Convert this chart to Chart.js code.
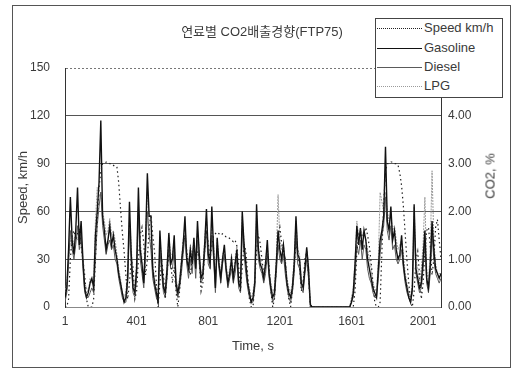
<!DOCTYPE html>
<html>
<head>
<meta charset="utf-8">
<script src="https://cdn.jsdelivr.net/npm/chart.js"></script>
<style>
body{margin:0;background:#fff;}
#wrap{position:relative;width:517px;height:371px;font-family:"Liberation Sans","Noto Sans CJK KR",sans-serif;color:#3a3a3a;}
#frame{position:absolute;left:12px;top:5px;width:497px;height:361px;border:1px solid #555;}
canvas{position:absolute;left:0;top:0;}
#title{position:absolute;left:262px;top:21px;transform:translateX(-50%);font-size:13px;white-space:nowrap;}
#legend{position:absolute;left:375px;top:18px;width:126px;height:78px;border:1px solid #444;background:#fff;}
.row{position:absolute;left:1px;height:14px;width:124px;font-size:13px;line-height:14px;}
.sample{position:absolute;left:0;top:7px;width:45px;height:0;}
.row span{position:absolute;left:47px;top:0;white-space:nowrap;}
#y2title{position:absolute;left:490px;top:176px;transform:translate(-50%,-50%) rotate(-90deg);font-size:13px;font-weight:normal;color:#3a3a3a;white-space:nowrap;}
</style>
</head>
<body>
<div id="wrap">
  <div id="frame"></div>
  <canvas id="chart" width="517" height="371"></canvas>
  <div id="title">연료별 CO2배출경향(FTP75)</div>
  <div id="y2title">CO2, %</div>
  <div id="legend"></div>
</div>
<script>
// values, one sample every 10 s (t = 1, 11, 21 ... 2101)
const sampleStep = 10;

// vehicle speed, km/h
const speedKmh = [
  0,0,5,30,45,48,42,46,50,38,
  30,20,5,0,0,0,5,30,55,75,
  85,90,90,91,91,90,90,89,88,88,
  78,62,47,35,20,5,15,30,25,5,
  10,30,45,50,40,20,30,50,58,45,
  35,15,0,15,30,20,5,20,35,30,
  15,25,10,0,10,25,40,45,35,25,
  20,30,40,30,35,30,10,15,35,48,
  40,30,38,45,46,47,46,45,46,45,
  44,44,43,42,41,42,38,25,10,25,
  40,35,20,5,0,0,15,35,45,40,
  30,20,25,35,25,10,0,5,25,45,
  50,40,35,30,15,5,0,10,25,40,
  35,25,10,15,30,35,20,0,
  0,0,0,0,0,0,0,0,0,0,0,0,0,0,0,0,0,0,0,0,0,0,
  0,0,10,35,45,48,44,46,50,45,
  38,28,15,3,0,0,3,35,65,85,
  90,90,91,91,90,90,89,84,76,63,
  46,29,15,3,0,10,30,35,20,5,
  15,35,48,50,38,20,30,50,55,42,30
];

// CO2, %
const co2Gasoline = [
  0.2,0.4,1.2,2.3,1.4,1.1,1.6,2.5,1.3,1.8,
  1.0,0.4,0.2,0.3,0.5,0.6,0.4,1.5,2.0,2.6,
  3.9,1.9,1.6,1.2,1.4,1.7,1.3,1.5,1.2,1.0,
  0.7,0.5,0.3,0.1,0.2,0.6,2.2,1.1,0.4,0.3,
  0.8,2.5,1.2,0.9,0.5,1.4,2.8,1.9,1.9,0.8,
  0.5,0.3,0.1,1.6,0.9,0.4,0.3,0.8,1.55,0.9,
  1.0,1.5,0.5,0.3,0.5,0.9,1.3,1.9,1.0,0.8,
  1.2,0.9,1.45,0.8,1.8,1.1,0.6,0.7,1.3,2.05,
  1.1,0.9,2.1,1.2,0.4,1.45,0.9,0.6,1.0,1.3,
  0.8,0.5,0.7,1.0,0.6,0.9,1.2,0.5,0.4,2.0,
  1.3,0.9,0.5,0.3,0.1,0.2,0.5,2.15,1.2,0.9,
  0.8,0.6,0.9,1.4,0.7,0.4,0.2,0.3,0.9,1.6,
  1.2,1.0,1.3,0.9,0.5,0.3,0.2,0.4,0.9,1.9,
  1.1,1.0,0.5,0.4,0.8,1.25,0.8,0.05,
  0,0,0,0,0,0,0,0,0,0,0,0,0,0,0,0,0,0,0,0,0,0,
  0.1,0.3,0.9,1.7,1.3,1.65,1.2,1.6,1.4,1.0,
  0.8,0.6,0.4,0.3,0.2,0.8,1.4,1.6,1.9,3.35,
  1.8,1.6,2.1,1.4,1.6,1.2,1.0,1.1,1.5,0.9,
  0.6,0.4,0.2,0.1,0.4,2.15,0.8,0.6,0.4,0.5,
  1.0,1.6,0.6,0.4,0.9,1.8,1.2,0.8,0.7,0.6,0.7
];

const co2Diesel = [
  0.1,0.3,0.9,1.6,1.2,1.0,1.3,1.7,1.2,1.5,
  0.8,0.3,0.2,0.2,0.3,0.4,0.3,1.0,1.7,2.1,
  2.4,1.7,1.4,1.1,1.3,1.4,1.2,1.3,1.0,0.9,
  0.6,0.4,0.2,0.1,0.1,0.5,1.6,0.9,0.3,0.2,
  0.6,1.9,1.0,0.7,0.4,1.1,2.0,1.5,1.2,0.6,
  0.4,0.2,0.1,1.2,0.7,0.3,0.2,0.6,1.2,0.8,
  0.8,1.2,0.4,0.2,0.4,0.7,1.1,1.5,0.9,0.6,
  1.0,0.7,1.2,0.6,1.4,0.9,0.5,0.6,1.1,1.6,
  0.9,0.8,1.5,1.0,0.3,1.2,0.8,0.5,0.9,1.1,
  0.7,0.4,0.6,0.8,0.5,0.7,1.0,0.4,0.3,1.6,
  1.1,0.7,0.4,0.2,0.1,0.1,0.4,1.7,1.0,0.8,
  0.7,0.5,0.7,1.1,0.6,0.3,0.1,0.2,0.7,1.3,
  1.0,0.9,1.1,0.7,0.4,0.2,0.1,0.3,0.7,1.5,
  0.9,0.8,0.4,0.3,0.7,1.0,0.6,0.05,
  0,0,0,0,0,0,0,0,0,0,0,0,0,0,0,0,0,0,0,0,0,0,
  0.1,0.2,0.6,1.3,1.1,1.4,1.0,1.3,1.2,0.8,
  0.6,0.5,0.3,0.2,0.2,0.6,1.1,1.5,1.7,2.3,
  1.6,1.4,1.7,1.2,1.3,1.0,0.9,1.0,1.2,0.8,
  0.5,0.3,0.2,0.1,0.3,1.7,0.7,0.5,0.3,0.4,
  0.8,1.3,0.5,0.3,0.7,1.5,1.0,0.7,0.6,0.5,0.6
];

const co2Lpg = [
  0.3,0.5,1.0,1.4,1.5,1.3,1.5,1.4,1.6,1.4,
  0.9,0.5,0.4,0.3,0.6,0.5,0.6,1.8,2.5,2.3,
  2.4,2.0,1.8,1.5,1.6,1.85,1.5,1.6,1.4,1.1,
  0.8,0.6,0.3,0.2,0.3,0.8,1.8,1.3,0.5,0.4,
  1.0,2.1,1.4,1.0,0.6,1.5,2.4,1.7,1.3,0.9,
  0.6,0.4,0.2,1.4,1.0,0.5,0.4,0.9,1.5,1.1,
  1.1,1.4,0.6,0.4,0.6,1.0,1.4,1.7,1.2,0.9,
  1.3,1.0,1.4,0.9,1.6,1.2,0.7,0.8,1.4,1.9,
  1.2,1.0,1.7,1.3,0.5,1.4,1.0,0.7,1.1,1.2,
  0.9,0.6,0.8,1.1,0.7,1.0,1.3,0.6,0.5,1.9,
  1.4,1.0,0.6,0.4,0.2,0.3,0.6,2.0,1.3,1.0,
  0.9,0.7,1.0,1.3,0.8,0.5,0.3,0.4,1.0,2.35,
  1.4,1.2,1.3,1.0,0.6,0.4,0.3,0.5,1.0,1.8,
  1.2,1.1,0.6,0.5,0.9,1.2,0.9,0.1,
  0,0,0,0,0,0,0,0,0,0,0,0,0,0,0,0,0,0,0,0,0,0,
  0.2,0.4,1.0,1.8,1.5,1.6,1.5,1.6,1.4,1.2,
  1.0,0.8,0.5,0.4,0.3,1.0,2.4,2.2,2.0,2.4,
  2.0,1.8,1.9,1.6,1.7,1.4,1.2,1.3,1.4,1.1,
  0.7,0.5,0.3,0.2,0.5,2.1,1.0,0.8,0.5,0.8,
  1.3,2.3,0.8,0.5,1.2,2.85,1.4,0.9,0.7,0.7,0.7
];

const timeTicks = [1, 401, 801, 1201, 1601, 2001];
const speedTicks = [0, 30, 60, 90, 120, 150];
const co2Ticks = [0, 1, 2, 3, 4, 5];

const times = speedKmh.map((v, i) => 1 + i * sampleStep);
const toPoints = arr => arr.map((v, i) => ({x: times[i], y: v}));

Chart.defaults.font.family = '"Liberation Sans", "Noto Sans CJK KR", sans-serif';
Chart.defaults.color = '#3a3a3a';

const datasets = [
  {label: 'Speed km/h', data: toPoints(speedKmh), yAxisID: 'y',
   borderColor: '#222', borderWidth: 1.2, borderDash: [1.5, 3]},
  {label: 'Gasoline', data: toPoints(co2Gasoline), yAxisID: 'y1',
   borderColor: '#111', borderWidth: 1.4},
  {label: 'Diesel', data: toPoints(co2Diesel), yAxisID: 'y1',
   borderColor: '#5a5a5a', borderWidth: 1},
  {label: 'LPG', data: toPoints(co2Lpg), yAxisID: 'y1',
   borderColor: '#9a9a9a', borderWidth: 1, borderDash: [2, 1]}
];
datasets.forEach(d => { d.pointRadius = 0; d.tension = 0; d.fill = false; });

new Chart(document.getElementById('chart'), {
  type: 'line',
  data: {datasets: datasets},
  options: {
    responsive: false,
    animation: false,
    layout: {padding: {left: 14, top: 68, right: 0, bottom: 0}},
    plugins: {legend: {display: false}, tooltip: {enabled: false}},
    scales: {
      x: {
        type: 'linear', min: 1, max: 2101,
        afterBuildTicks: s => { s.ticks = timeTicks.map(v => ({value: v})); },
        afterFit: s => { s.height = 64; },
        ticks: {font: {size: 12}, padding: 7, maxRotation: 0, autoSkip: false, callback: v => v},
        grid: {display: false, drawTicks: false},
        border: {display: true, color: '#888', width: 1},
        title: {display: true, text: 'Time, s', font: {size: 13}, padding: {top: 0, bottom: 17}}
      },
      y: {
        position: 'left', min: 0, max: 150,
        afterBuildTicks: s => { s.ticks = speedTicks.map(v => ({value: v})); },
        afterFit: s => { s.width = 51; },
        ticks: {font: {size: 12}, padding: 15},
        grid: {
          drawTicks: false,
          color: ctx => ctx.tick.value === 0 ? 'rgba(0,0,0,0)' : (ctx.tick.value === 150 ? '#777' : '#555')
        },
        border: {color: '#333', dash: ctx => (ctx.tick && ctx.tick.value === 150) ? [2, 2] : []},
        title: {display: true, text: 'Speed, km/h', font: {size: 13}, padding: {top: 2, bottom: 0}}
      },
      y1: {
        position: 'right', min: 0, max: 5,
        afterBuildTicks: s => { s.ticks = co2Ticks.map(v => ({value: v})); },
        afterFit: s => { s.width = 76; },
        ticks: {font: {size: 12}, padding: 7, callback: v => v.toFixed(2)},
        grid: {drawOnChartArea: false, drawTicks: false},
        border: {color: '#333'}
      }
    }
  }
});

// legend box drawn over the top right corner, like the original
const legendTops = [2, 22, 41, 60];
const legend = document.getElementById('legend');
datasets.forEach((d, i) => {
  const row = document.createElement('div');
  row.className = 'row';
  row.style.top = legendTops[i] + 'px';
  const style = d.borderDash ? 'dotted' : 'solid';
  row.innerHTML = `<div class="sample" style="border-top:1px ${style} ${d.borderColor}"></div><span>${d.label}</span>`;
  legend.appendChild(row);
});
</script>
</body>
</html>
